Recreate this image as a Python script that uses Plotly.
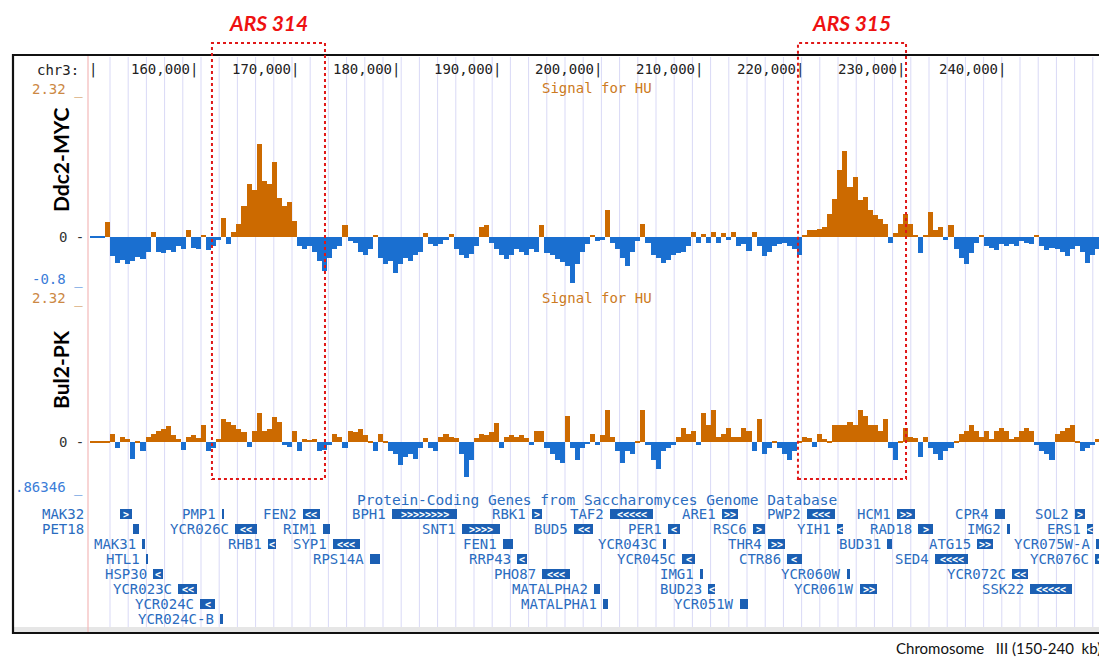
import plotly.graph_objects as go

# The page body has an 8 px margin, so the figure is drawn 8 px in from the
# top-left corner of the window; the figure is sized to fill the rest.
OFF = 8
W, H = 1107 - OFF, 664 - OFF

# ---------------- data ----------------
bin_start_kb = 149.5
bin_size_kb = 0.5

ddc2_myc = [
    -0.02, -0.02, -0.02, 0.24, -0.32, -0.43, -0.38, -0.45, -0.40, -0.33,
    -0.36, -0.25, 0.08, -0.25, -0.27, -0.22, -0.25, -0.15, -0.20, 0.10,
    -0.18, -0.20, 0.03, -0.22, -0.16, -0.05, 0.30, -0.12, 0.08, 0.20,
    0.50, 0.85, 0.75, 1.50, 0.90, 0.85, 1.20, 0.62, 0.50, 0.55,
    0.25, -0.15, -0.20, -0.15, -0.25, -0.40, -0.56, -0.35, -0.20, -0.15,
    0.19, -0.08, -0.10, -0.25, -0.30, -0.20, 0.03, -0.35, -0.45, -0.40,
    -0.59, -0.45, -0.35, -0.40, -0.30, -0.25, 0.06, -0.12, -0.15, -0.12,
    -0.05, 0.04, -0.20, -0.30, -0.35, -0.28, -0.15, 0.16, 0.19, -0.10,
    -0.20, -0.30, -0.37, -0.30, -0.20, -0.25, -0.30, -0.20, -0.25, 0.19,
    -0.27, -0.30, -0.37, -0.42, -0.48, -0.75, -0.45, -0.25, -0.12, 0.03,
    -0.08, -0.05, 0.43, -0.10, -0.20, -0.35, -0.48, -0.25, -0.08, 0.21,
    -0.10, -0.30, -0.35, -0.43, -0.38, -0.30, -0.27, -0.25, -0.16, 0.08,
    -0.10, 0.04, -0.10, 0.08, -0.10, 0.06, -0.05, 0.07, -0.15, -0.12,
    -0.24, 0.08, -0.15, -0.32, -0.25, -0.16, -0.12, -0.10, -0.16, -0.20,
    -0.30, 0.02, 0.10, 0.10, 0.12, 0.15, 0.37, 0.60, 1.07, 1.39,
    0.80, 0.96, 0.59, 0.64, 0.43, 0.35, 0.28, 0.20, -0.10, 0.05,
    0.20, 0.37, 0.20, 0.02, -0.27, 0.02, 0.40, 0.10, 0.16, -0.05,
    0.19, -0.20, -0.35, -0.45, -0.27, -0.10, 0.03, -0.15, -0.18, -0.21,
    -0.12, -0.16, -0.12, -0.15, -0.08, -0.10, -0.12, 0.03, -0.15, -0.21,
    -0.18, -0.20, -0.25, -0.32, -0.20, -0.16, -0.25, -0.43, -0.30, -0.20,
    -0.21,
]

bul2_pk = [
    0.02, 0.02, 0.02, 0.02, 0.14, -0.10, 0.10, 0.06, -0.27, 0.02,
    -0.15, 0.10, 0.15, 0.20, 0.22, 0.28, 0.12, 0.05, -0.12, 0.10,
    0.12, 0.08, 0.30, -0.15, -0.10, 0.05, 0.39, 0.35, 0.30, 0.22,
    0.18, -0.08, 0.20, 0.50, 0.20, 0.22, 0.43, 0.35, -0.05, -0.08,
    0.20, -0.15, 0.05, 0.04, 0.05, -0.15, -0.12, -0.05, 0.15, 0.10,
    -0.10, 0.20, 0.18, 0.22, 0.12, 0.02, -0.15, 0.15, 0.02, -0.15,
    -0.20, -0.38, -0.25, -0.20, -0.28, -0.10, 0.08, -0.10, -0.15, 0.10,
    0.15, 0.10, 0.08, -0.20, -0.58, -0.30, 0.08, 0.15, 0.12, 0.18,
    0.33, -0.10, 0.10, 0.12, 0.10, 0.12, 0.08, -0.05, 0.20, 0.20,
    -0.10, -0.20, -0.30, -0.35, 0.45, -0.10, -0.30, -0.10, -0.02, 0.15,
    -0.05, 0.12, 0.55, 0.10, -0.15, -0.35, -0.15, -0.20, 0.02, 0.55,
    -0.05, -0.30, -0.45, -0.15, -0.10, -0.05, 0.10, 0.25, 0.15, 0.20,
    -0.05, 0.50, 0.30, 0.55, 0.10, 0.15, 0.25, 0.10, 0.10, 0.25,
    0.20, -0.15, 0.40, -0.20, -0.10, 0.02, -0.10, -0.20, -0.30, -0.15,
    0.02, 0.10, 0.08, -0.08, 0.15, 0.05, 0.03, 0.30, 0.30, 0.30,
    0.35, 0.30, 0.55, 0.45, 0.30, 0.30, 0.20, 0.40, -0.10, -0.30,
    0.02, 0.25, 0.10, 0.08, -0.25, 0.10, -0.10, -0.20, -0.30, -0.15,
    -0.10, 0.02, 0.15, 0.20, 0.30, 0.20, 0.10, 0.20, 0.05, 0.20,
    0.25, 0.20, 0.05, 0.10, 0.20, 0.25, 0.20, -0.05, -0.15, -0.20,
    -0.30, 0.15, 0.20, 0.25, 0.30, 0.02, -0.15, -0.10, -0.05, 0.05,
    0.05,
]

track1_min, track1_max = -0.8, 2.32
track2_min, track2_max = -0.86346, 2.32
track_names = ["Ddc2-MYC", "Bul2-PK"]
track_title = "Signal for HU"

view_start_kb, view_end_kb = 149.307, 250.0

ruler_ticks_kb = [150, 160, 170, 180, 190, 200, 210, 220, 230, 240]
ruler_labels = ["|", "160,000|", "170,000|", "180,000|", "190,000|",
                "200,000|", "210,000|", "220,000|", "230,000|", "240,000|"]

gene_names = ["MAK32", "PET18", "MAK31", "HTL1", "HSP30", "YCR023C", "YCR024C",
              "YCR024C-B", "PMP1", "YCR026C", "RHB1", "FEN2", "RIM1", "SYP1",
              "RPS14A", "BPH1", "SNT1", "FEN1", "RRP43", "RBK1", "PHO87", "BUD5",
              "MATALPHA2", "MATALPHA1", "TAF2", "YCR043C", "PER1", "YCR045C",
              "IMG1", "BUD23", "ARE1", "YCR051W", "RSC6", "THR4", "CTR86", "PWP2",
              "YIH1", "YCR060W", "YCR061W", "BUD31", "HCM1", "RAD18", "SED4",
              "ATG15", "CPR4", "IMG2", "YCR072C", "SSK22", "SOL2", "ERS1",
              "YCR075W-A", "YCR076C"]
gene_start_kb = [152.48, 153.76, 154.65, 155.05, 155.74, 158.22, 160.40,
                 162.38, 162.57, 163.86, 167.13, 170.59, 172.57, 173.56,
                 177.23, 179.41, 186.34, 190.40, 191.78, 193.27, 194.26, 197.43,
                 199.41, 200.30, 200.99, 206.24, 206.73, 208.12,
                 209.90, 210.69, 212.08, 213.86, 215.15, 216.63, 218.51, 220.50,
                 223.47, 224.46, 225.74, 228.42, 229.41, 231.49, 233.17,
                 237.33, 239.11, 240.30, 240.79, 242.57, 247.03, 248.22,
                 249.11, 249.01]
gene_end_kb = [153.66, 154.36, 154.95, 155.25, 156.73, 160.10, 161.88,
               162.67, 162.77, 166.04, 167.92, 172.28, 173.27, 176.24,
               178.22, 185.84, 190.10, 191.39, 192.77, 194.26, 197.03, 199.31,
               200.00, 200.79, 205.25, 206.53, 207.92, 209.41,
               210.20, 211.39, 213.66, 214.65, 216.34, 218.32, 220.00, 223.27,
               224.06, 224.75, 227.43, 228.91, 231.19, 232.97, 236.44,
               238.91, 240.10, 240.59, 242.38, 246.73, 248.02, 248.81,
               249.41, 250.30]
gene_row = [0, 1, 2, 3, 4, 5, 6,
            7, 0, 1, 2, 0, 1, 2,
            3, 0, 1, 2, 3, 0, 4, 1,
            5, 6, 0, 2, 1, 3,
            4, 5, 0, 6, 1, 2, 3, 0,
            1, 4, 5, 2, 0, 1, 3,
            2, 0, 1, 4, 5, 0, 1,
            2, 3]
gene_strand = ["+", "", "", "", "-", "-", "-",
               "", "", "-", "-", "-", "", "-",
               "", "+", "+", "", "-", "+", "-", "-",
               "", "", "-", "", "-", "-",
               "", "-", "+", "", "+", "+", "-", "-",
               "-", "", "+", "", "+", "+", "-",
               "+", "", "", "-", "-", "+", "-",
               "", "-"]
gutter_label_genes = ["MAK32", "PET18"]
gene_track_title = "Protein-Coding Genes from Saccharomyces Genome Database"

ars_names = ["ARS 314", "ARS 315"]
ars_start_kb = [161.58, 219.60]
ars_end_kb = [172.77, 230.30]

footer_text = "Chromosome\u00a0\u00a0\u00a0III (150-240\u00a0\u00a0kb)"

# ---------------- styles / layout helpers ----------------
ORANGE = "#cc6a00"
BLUE = "#1a6fd0"
GENE_BLUE = "#1b5fb3"
LABEL_BLUE = "#2a6cc0"
MONO = "DejaVu Sans Mono"


def py(p):
    """window pixel row -> paper y"""
    return 1 - (p - OFF) / H


def px(p):
    """window pixel column -> paper x"""
    return (p - OFF) / W


X0_PX, X1_PX = 88, 1105
T1_TOP, T1_BOT = 93, 286
T2_TOP, T2_BOT = 304, 494
G_TOP, G_BOT = 499, 634

fig = go.Figure()

centers1 = [(bin_start_kb + (i + 0.5) * bin_size_kb) * 1000 for i in range(len(ddc2_myc))]
centers2 = [(bin_start_kb + (i + 0.5) * bin_size_kb) * 1000 for i in range(len(bul2_pk))]

fig.add_trace(go.Bar(
    x=centers1, y=ddc2_myc, width=bin_size_kb * 1000,
    marker=dict(color=[ORANGE if v >= 0 else BLUE for v in ddc2_myc], line=dict(width=0)),
    xaxis="x", yaxis="y", showlegend=False, hoverinfo="skip"))
fig.add_trace(go.Bar(
    x=centers2, y=bul2_pk, width=bin_size_kb * 1000,
    marker=dict(color=[ORANGE if v >= 0 else BLUE for v in bul2_pk], line=dict(width=0)),
    xaxis="x", yaxis="y2", showlegend=False, hoverinfo="skip"))

g_len = [(e - s) * 1000 for s, e in zip(gene_start_kb, gene_end_kb)]
fig.add_trace(go.Bar(
    orientation="h", y=gene_row, x=g_len, base=[s * 1000 for s in gene_start_kb],
    width=0.67, marker=dict(color=GENE_BLUE, line=dict(width=0)),
    xaxis="x", yaxis="y3", showlegend=False, hoverinfo="skip"))

annotations = []
shapes = []

# guidelines (browser-style vertical guides)
gstep = 1802
gx = 151485
while gx < view_end_kb * 1000:
    shapes.append(dict(type="line", xref="x", yref="paper", x0=gx, x1=gx,
                       y0=py(632), y1=py(57), line=dict(color="#d9d9f6", width=1),
                       layer="below"))
    gx += gstep

# frame
shapes.append(dict(type="rect", xref="paper", yref="paper", x0=px(13), x1=px(1105),
                   y0=py(627), y1=py(632), fillcolor="#e6e6e6", line=dict(width=0), layer="below"))
shapes.append(dict(type="line", xref="paper", yref="paper", x0=px(X0_PX), x1=px(X0_PX),
                   y0=py(632), y1=py(56), line=dict(color="#f3b9b9", width=1.2), layer="below"))
shapes.append(dict(type="rect", xref="paper", yref="paper", x0=px(13), x1=px(1105),
                   y0=py(633), y1=py(55), line=dict(color="#111111", width=2.2),
                   fillcolor="rgba(0,0,0,0)", layer="above"))

# ARS boxes
for name, s, e in zip(ars_names, ars_start_kb, ars_end_kb):
    shapes.append(dict(type="rect", xref="x", yref="paper", x0=s * 1000, x1=e * 1000,
                       y0=py(479), y1=py(43), line=dict(color="#e01818", width=2, dash="dot"),
                       fillcolor="rgba(0,0,0,0)", layer="above"))
    annotations.append(dict(x=(s + e) / 2 * 1000, xref="x", y=py(22), yref="paper",
                            text="<b><i>%s</i></b>" % name, showarrow=False,
                            font=dict(family="Lato", size=21, color="#ee1111"),
                            xanchor="center", yanchor="middle"))

# ruler
annotations.append(dict(x=px(81), xref="paper", y=py(70), yref="paper", text="chr3:",
                        showarrow=False, xanchor="right", yanchor="middle",
                        font=dict(family=MONO, size=14, color="#222222")))
for t, lab in zip(ruler_ticks_kb, ruler_labels):
    annotations.append(dict(x=t * 1000, xref="x", y=py(70), yref="paper", text=lab,
                            showarrow=False, xanchor="right", xshift=4, yanchor="middle",
                            font=dict(family=MONO, size=14, color="#222222")))

# track titles and scale labels
mid = px((X0_PX + X1_PX) / 2)
for yr, tmin, tmax, ttop, name, lab_y, bot_text, s_top, s_bot in [
        ("y", track1_min, track1_max, 88, track_names[0], 160, "-0.8 _", 4, 7),
        ("y2", track2_min, track2_max, 298, track_names[1], 370, ".86346 _", 6, 7)]:
    annotations.append(dict(x=mid, xref="paper", y=py(ttop), yref="paper", text=track_title,
                            showarrow=False, xanchor="center", yanchor="middle",
                            font=dict(family=MONO, size=14, color="#cc7a22")))
    annotations.append(dict(x=px(85), xref="paper", y=tmax, yref=yr, yshift=s_top,
                            text="%.2f _" % tmax, showarrow=False, xanchor="right",
                            yanchor="middle", font=dict(family=MONO, size=14, color="#cc8844")))
    annotations.append(dict(x=px(86), xref="paper", y=0, yref=yr, text="0 -",
                            showarrow=False, xanchor="right", yanchor="middle",
                            font=dict(family=MONO, size=14, color="#333333")))
    annotations.append(dict(x=px(85), xref="paper", y=tmin, yref=yr, yshift=s_bot,
                            text=bot_text, showarrow=False, xanchor="right",
                            yanchor="middle", font=dict(family=MONO, size=14, color="#3b7dd8")))
    annotations.append(dict(x=px(60), xref="paper", y=py(lab_y), yref="paper",
                            text="<b>%s</b>" % name, textangle=-90, showarrow=False,
                            xanchor="center", yanchor="middle",
                            font=dict(family="Lato", size=21, color="#000000")))

# gene track
annotations.append(dict(x=mid, xref="paper", y=py(500), yref="paper", text=gene_track_title,
                        showarrow=False, xanchor="center", yanchor="middle",
                        font=dict(family=MONO, size=14.5, color=LABEL_BLUE)))
for name, s, e, r, st in zip(gene_names, gene_start_kb, gene_end_kb, gene_row, gene_strand):
    if name in gutter_label_genes:
        annotations.append(dict(x=px(86), xref="paper", y=r, yref="y3", text=name,
                                showarrow=False, xanchor="right", yanchor="middle",
                                font=dict(family=MONO, size=14, color=LABEL_BLUE)))
    else:
        annotations.append(dict(x=s * 1000, xref="x", y=r, yref="y3", text=name,
                                showarrow=False, xanchor="right", xshift=-4, yanchor="middle",
                                font=dict(family=MONO, size=14, color=LABEL_BLUE)))
    if st:
        n = max(1, int((e - s) / 0.78))
        ch = (">" if st == "+" else "<") * n
        annotations.append(dict(x=(s + min(e, view_end_kb)) / 2 * 1000, xref="x", y=r, yref="y3",
                                text="<b>%s</b>" % ch, showarrow=False, xanchor="center",
                                yanchor="middle",
                                font=dict(family=MONO, size=10, color="#ffffff")))

annotations.append(dict(x=px(1103), xref="paper", y=py(648), yref="paper", text=footer_text,
                        showarrow=False, xanchor="right", yanchor="middle",
                        font=dict(family="Lato", size=15, color="#111111")))

hidden = dict(showgrid=False, zeroline=False, showticklabels=False, ticks="",
              showline=False, fixedrange=True)

fig.update_layout(
    width=W, height=H, autosize=False,
    margin=dict(l=0, r=0, t=0, b=0),
    paper_bgcolor="white", plot_bgcolor="rgba(0,0,0,0)",
    barmode="overlay", bargap=0,
    xaxis=dict(domain=[px(X0_PX), px(X1_PX)], range=[view_start_kb * 1000, view_end_kb * 1000],
               anchor="y3", **hidden),
    yaxis=dict(domain=[py(T1_BOT), py(T1_TOP)], range=[track1_min, track1_max], anchor="x", **hidden),
    yaxis2=dict(domain=[py(T2_BOT), py(T2_TOP)], range=[track2_min, track2_max], anchor="x", **hidden),
    yaxis3=dict(domain=[py(G_BOT), py(G_TOP)], range=[8, -1], anchor="x", **hidden),
    shapes=shapes, annotations=annotations,
    showlegend=False,
)

fig.write_html("out.html")
